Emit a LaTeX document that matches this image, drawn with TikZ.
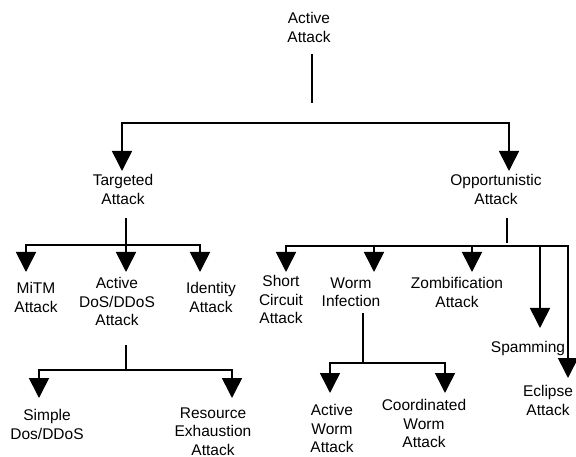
\documentclass[tikz,border=0pt]{standalone}
\usepackage{fontspec}
\setmainfont{Liberation Sans}
\usetikzlibrary{arrows.meta,positioning}

\tikzset{
	lbl/.style={font=\fontsize{15.5}{18.5}\selectfont, align=center, inner sep=0pt, outer sep=0pt},
	conn/.style={line width=1.6pt},
	arr/.style={conn, -{Triangle[width=20pt,length=20pt]}},
}

\begin{document}
\begin{tikzpicture}[x=1pt,y=-1pt]
	\useasboundingbox (0,0) rectangle (576,457);

	% tips of the arrows
	\coordinate (targ-in) at (122,171);
	\coordinate (opp-in) at (509,171);
	\coordinate (mitm-in) at (26,272);
	\coordinate (dos-in) at (126,272);
	\coordinate (ident-in) at (200,272);
	\coordinate (simple-in) at (39,398);
	\coordinate (res-in) at (232,398);
	\coordinate (short-in) at (286,272);
	\coordinate (worm-in) at (374,272);
	\coordinate (zomb-in) at (472,272);
	\coordinate (spam-in) at (540,328);
	\coordinate (ecl-in) at (568,378);
	\coordinate (aworm-in) at (330,393);
	\coordinate (cworm-in) at (445,393);

	\node [lbl, anchor=north] (active) at (309,12.5) {Active\\Attack};
	\node [lbl, below=3.5pt of targ-in, xshift=1pt] (targ) {Targeted\\Attack};
	\node [lbl, below=3.5pt of opp-in, xshift=-13pt] (opp) {Opportunistic\\Attack};
	\node [lbl, below=10.5pt of mitm-in, xshift=10pt] (mitm) {MiTM\\Attack};
	\node [lbl, below=5.5pt of dos-in, xshift=-9pt] (dos) {Active\\DoS/DDoS\\Attack};
	\node [lbl, below=10.5pt of ident-in, xshift=11pt] (ident) {Identity\\Attack};
	\node [lbl, below=11.5pt of simple-in, xshift=8pt] (simple) {Simple\\Dos/DDoS};
	\node [lbl, below=9.5pt of res-in, xshift=-19pt] (res) {Resource\\Exhaustion\\Attack};
	\node [lbl, below=3.5pt of short-in, xshift=-5pt] (short) {Short\\Circuit\\Attack};
	\node [lbl, below=5.5pt of worm-in, xshift=-23pt] (worm) {Worm\\Infection};
	\node [lbl, below=5.5pt of zomb-in, xshift=-15pt] (zomb) {Zombification\\Attack};
	\node [lbl, below=13.5pt of spam-in, xshift=-12pt] (spam) {Spamming};
	\node [lbl, below=7.5pt of ecl-in, xshift=-20pt] (ecl) {Eclipse\\Attack};
	\node [lbl, below=11.5pt of aworm-in, xshift=2pt] (aworm) {Active\\Worm\\Attack};
	\node [lbl, below=6.5pt of cworm-in, xshift=-21pt] (cworm) {Coordinated\\Worm\\Attack};

	% stems and buses
	\coordinate (active-top) at (312,54);
	\coordinate (active-bot) at (312,103);
	\coordinate (active-bus) at (312,123);
	\coordinate (targ-top) at (126,218);
	\coordinate (targ-bus) at (126,245);
	\coordinate (opp-top) at (507,218);
	\coordinate (opp-bot) at (507,243);
	\coordinate (opp-bus) at (507,246);
	\coordinate (dos-top) at (126,345);
	\coordinate (dos-bus) at (126,370);
	\coordinate (worm-top) at (363,313);
	\coordinate (worm-bus) at (363,363);

	\draw [conn] (active-top) -- (active-bot);
	\draw [arr] (active-bus) -| (targ-in);
	\draw [arr] (active-bus) -| (opp-in);

	\draw [conn] (targ-top) -- (targ-bus);
	\draw [arr] (targ-bus) -| (mitm-in);
	\draw [arr] (targ-bus) -- (dos-in);
	\draw [arr] (targ-bus) -| (ident-in);

	\draw [conn] (dos-top) -- (dos-bus);
	\draw [arr] (dos-bus) -| (simple-in);
	\draw [arr] (dos-bus) -| (res-in);

	\draw [conn] (opp-top) -- (opp-bot);
	\draw [arr] (opp-bus) -| (short-in);
	\draw [arr] (opp-bus) -| (worm-in);
	\draw [arr] (opp-bus) -| (zomb-in);
	\draw [arr] (opp-bus) -| (spam-in);
	\draw [arr] (opp-bus) -| (ecl-in);

	\draw [conn] (worm-top) -- (worm-bus);
	\draw [arr] (worm-bus) -| (aworm-in);
	\draw [arr] (worm-bus) -| (cworm-in);
\end{tikzpicture}
\end{document}
